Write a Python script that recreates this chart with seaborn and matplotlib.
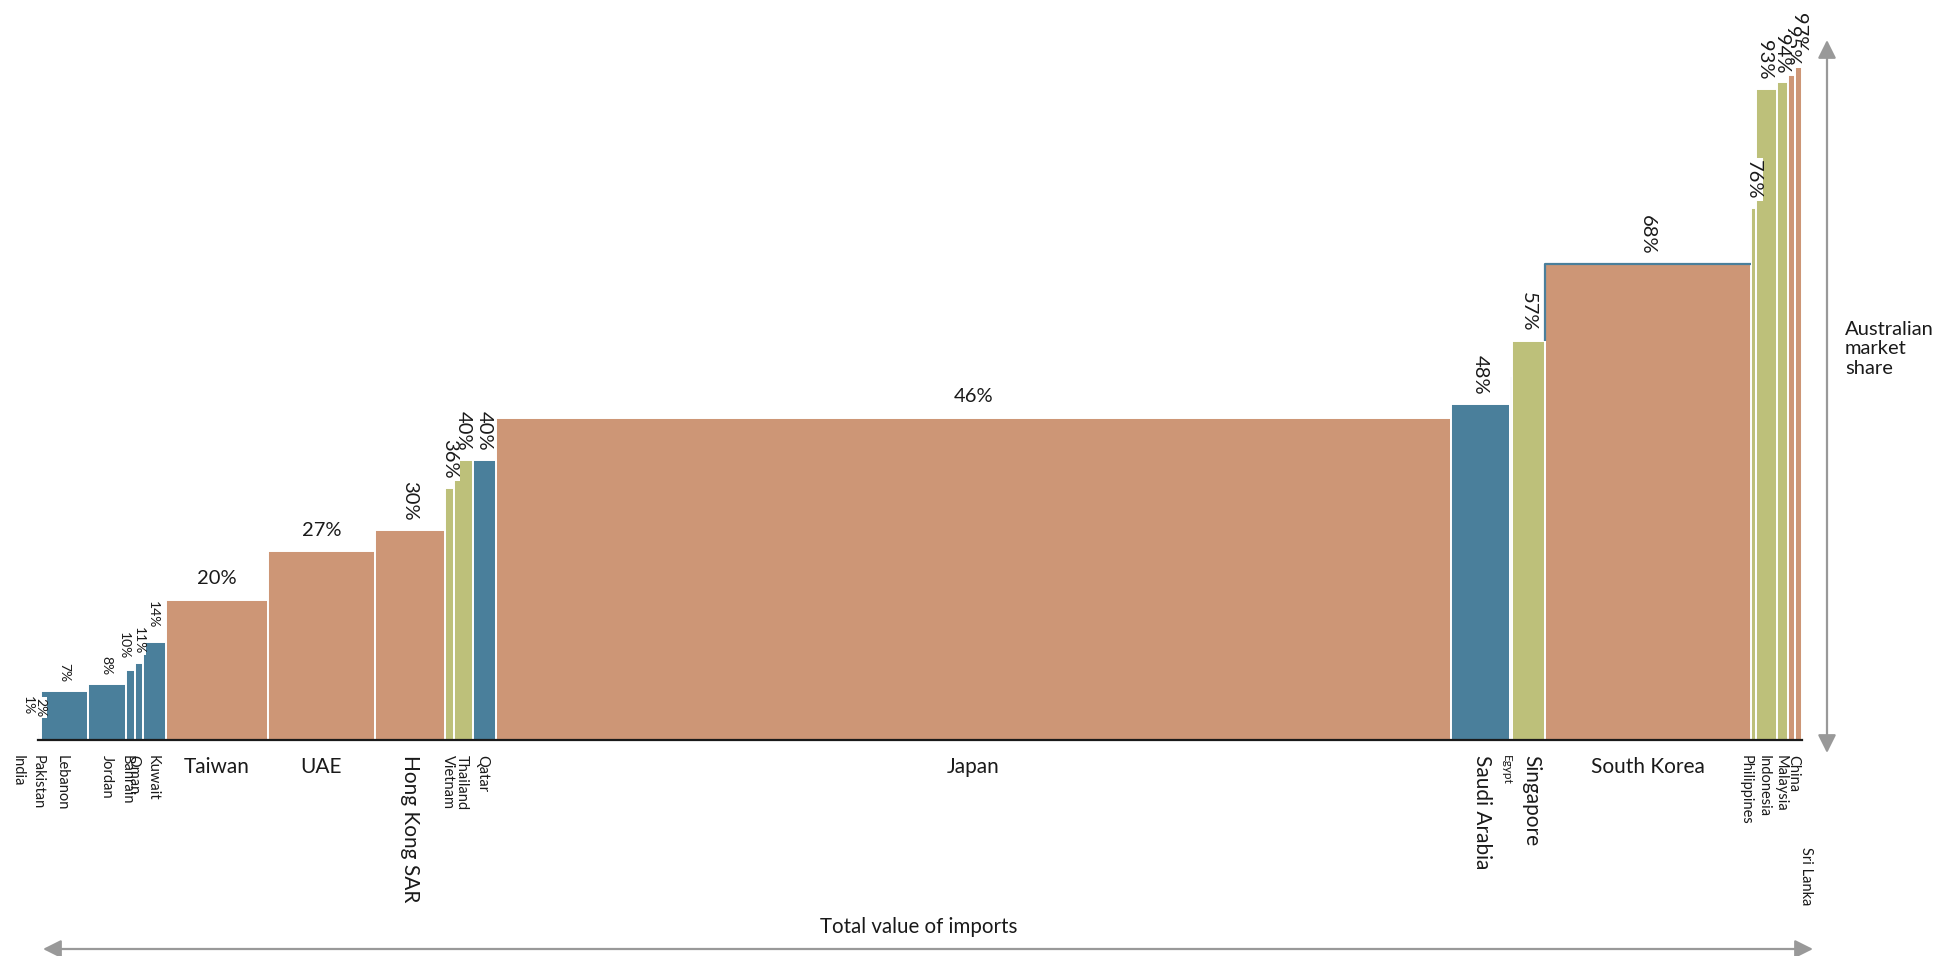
import numpy as np
import pandas as pd
import matplotlib
matplotlib.use("Agg")
import matplotlib.pyplot as plt
from matplotlib.patches import FancyArrowPatch
import seaborn as sns

# ---- data -------------------------------------------------------------
countries = ["India", "Pakistan", "Lebanon", "Jordan", "Bahrain", "Oman", "Kuwait",
             "Taiwan", "UAE", "Hong Kong SAR", "Vietnam", "Thailand", "Qatar",
             "Japan", "Saudi Arabia", "Egypt", "Singapore", "South Korea",
             "Philippines", "Indonesia", "Malaysia", "China", "Sri Lanka"]
# Australian market share (%)
market_share = [1, 2, 7, 8, 10, 11, 14,
                20, 27, 30, 36, 40, 40,
                46, 48, 52, 57, 68,
                76, 93, 94, 95, 97]
# Total value of imports (bar widths)
import_value = [1.5, 1.5, 47, 37.5, 9, 8.5, 23,
                102, 107, 70, 9, 19, 23,
                955, 58.5, 2.5, 32.5, 206,
                5, 21, 11.5, 7, 7]
colour_group = ["blue", "blue", "blue", "blue", "blue", "blue", "blue",
                "tan", "tan", "tan", "olive", "olive", "blue",
                "tan", "blue", "blue", "olive", "tan",
                "olive", "olive", "olive", "tan", "tan"]
# value labels shown on the chart (Egypt has none)
value_labels = [f"{v}%" for v in market_share]
value_labels[countries.index("Egypt")] = ""

palette = {"blue": "#4A7F9B", "tan": "#CD9676", "olive": "#BDC07A"}

# ---- layout helpers ---------------------------------------------------
W, H, DPI = 1943, 956, 100
PT = 72 / DPI  # pixels -> points

edges = np.concatenate([[0.0], np.cumsum(import_value)])
centers = (edges[:-1] + edges[1:]) / 2

df = pd.DataFrame({"country": countries, "share": market_share,
                   "centre": centers, "group": colour_group})

sns.set_theme(style="white")
plt.rcParams["font.family"] = ["Lato", "DejaVu Sans"]
plt.rcParams["text.color"] = "#1a1a1a"

fig = plt.figure(figsize=(W / DPI, H / DPI), dpi=DPI)
ax = fig.add_axes([38 / W, 216 / H, 1764 / W, 700 / H])

# variable-width bars: one bin per country, bin width = import value
sns.histplot(data=df, x="centre", weights="share", bins=[float(e) for e in edges],
             hue="group", palette=palette, multiple="layer", alpha=1,
             edgecolor="white", linewidth=1.4, legend=False, ax=ax, stat="count")
for p in list(ax.patches):
    if p.get_height() == 0:
        p.remove()

ax.set_xlim(edges[0], edges[-1])
ax.set_ylim(0, 100)
ax.set_xlabel("")
ax.set_ylabel("")
ax.set_xticks([])
ax.set_yticks([])
for side in ["left", "right", "top"]:
    ax.spines[side].set_visible(False)
ax.spines["bottom"].set_color("#1a1a1a")
ax.spines["bottom"].set_linewidth(1.6)
ax.spines["bottom"].set_zorder(5)

# blue outline along the left and top of South Korea
k = countries.index("South Korea")
ax.plot([edges[k], edges[k], edges[k + 1]],
        [market_share[k - 1], market_share[k], market_share[k]],
        color=palette["blue"], lw=1.6, solid_capstyle="butt", zorder=3)

# ---- labels ------------------------------------------------------------
horizontal_names = {"Taiwan", "UAE", "Japan", "South Korea"}
horizontal_values = {"Taiwan", "UAE", "Japan"}
large_names = {"Taiwan", "UAE", "Hong Kong SAR", "Japan", "Saudi Arabia",
               "Singapore", "South Korea"}
small_values = {"India", "Pakistan", "Lebanon", "Jordan", "Bahrain", "Oman", "Kuwait"}

# pixel nudges (dx, dy) for crowded labels
name_nudge = {"India": (-21, 0), "Pakistan": (-3, 0), "Lebanon": (-3, 0),
              "Bahrain": (-3, 0), "Oman": (-5, 0), "Kuwait": (-2, 0),
              "Vietnam": (-2, 0), "Thailand": (-2, 0), "Qatar": (-2, 0),
              "Saudi Arabia": (2, 0), "Egypt": (-4, 0), "Singapore": (3, 0),
              "Philippines": (-7, 0), "Indonesia": (-2, 0), "Malaysia": (-2, 0),
              "China": (2, 0), "Sri Lanka": (7, 92)}
value_nudge = {"India": (-11, 9), "Bahrain": (-6, 2), "Kuwait": (-2, 5),
               "Indonesia": (-2, 0), "Malaysia": (-1, 0)}

box = dict(boxstyle="square,pad=0.08", fc="white", ec="none")

n = len(countries)
for i, name in enumerate(countries):
    cx, h = centers[i], market_share[i]
    z = 10 + (n - i)  # earlier labels sit above later neighbours
    # value label above each bar
    if value_labels[i]:
        dx, dy = value_nudge.get(name, (0, 0))
        fs = 10 if name in small_values else 14.5
        if name in horizontal_values:
            ax.annotate(value_labels[i], xy=(cx, h), xytext=(dx * PT, (21 + dy) * PT),
                        textcoords="offset points", ha="center", va="center",
                        fontsize=fs, bbox=box, zorder=z, annotation_clip=False)
        else:
            ax.annotate(value_labels[i], xy=(cx, h), xytext=(dx * PT, (9 + dy) * PT),
                        textcoords="offset points", ha="center", va="bottom",
                        rotation=-90, fontsize=fs, bbox=box, zorder=z,
                        annotation_clip=False)
    # country name under the axis
    dx, dy = name_nudge.get(name, (0, 0))
    fs = 15 if name in large_names else (8.5 if name == "Egypt" else 10.5)
    if name in horizontal_names:
        ax.annotate(name, xy=(cx, 0), xytext=(dx * PT, -27 * PT),
                    textcoords="offset points", ha="center", va="center",
                    fontsize=fs, annotation_clip=False)
    else:
        ax.annotate(name, xy=(cx, 0), xytext=(dx * PT, -(15 + dy) * PT),
                    textcoords="offset points", ha="center", va="top",
                    rotation=-90, fontsize=fs, annotation_clip=False)

# ---- axis arrows and titles ---------------------------------------------
arrow_kw = dict(arrowstyle="<|-|>,head_length=1.1,head_width=0.55",
                mutation_scale=10, color="#999999", lw=1.6,
                shrinkA=0, shrinkB=0, transform=fig.transFigure)
fig.add_artist(FancyArrowPatch((1827 / W, 1 - 753 / H), (1827 / W, 1 - 40 / H), **arrow_kw))
fig.add_artist(FancyArrowPatch((43 / W, 1 - 949 / H), (1813 / W, 1 - 949 / H), **arrow_kw))

fig.text(919 / W, 1 - 927 / H, "Total value of imports", ha="center", va="center",
         fontsize=14.8)
fig.text(1845 / W, 1 - 349 / H, "Australian\nmarket\nshare", ha="left", va="center",
         fontsize=14.5, linespacing=1.2)

fig.savefig("out.png", dpi=DPI, facecolor="white")
